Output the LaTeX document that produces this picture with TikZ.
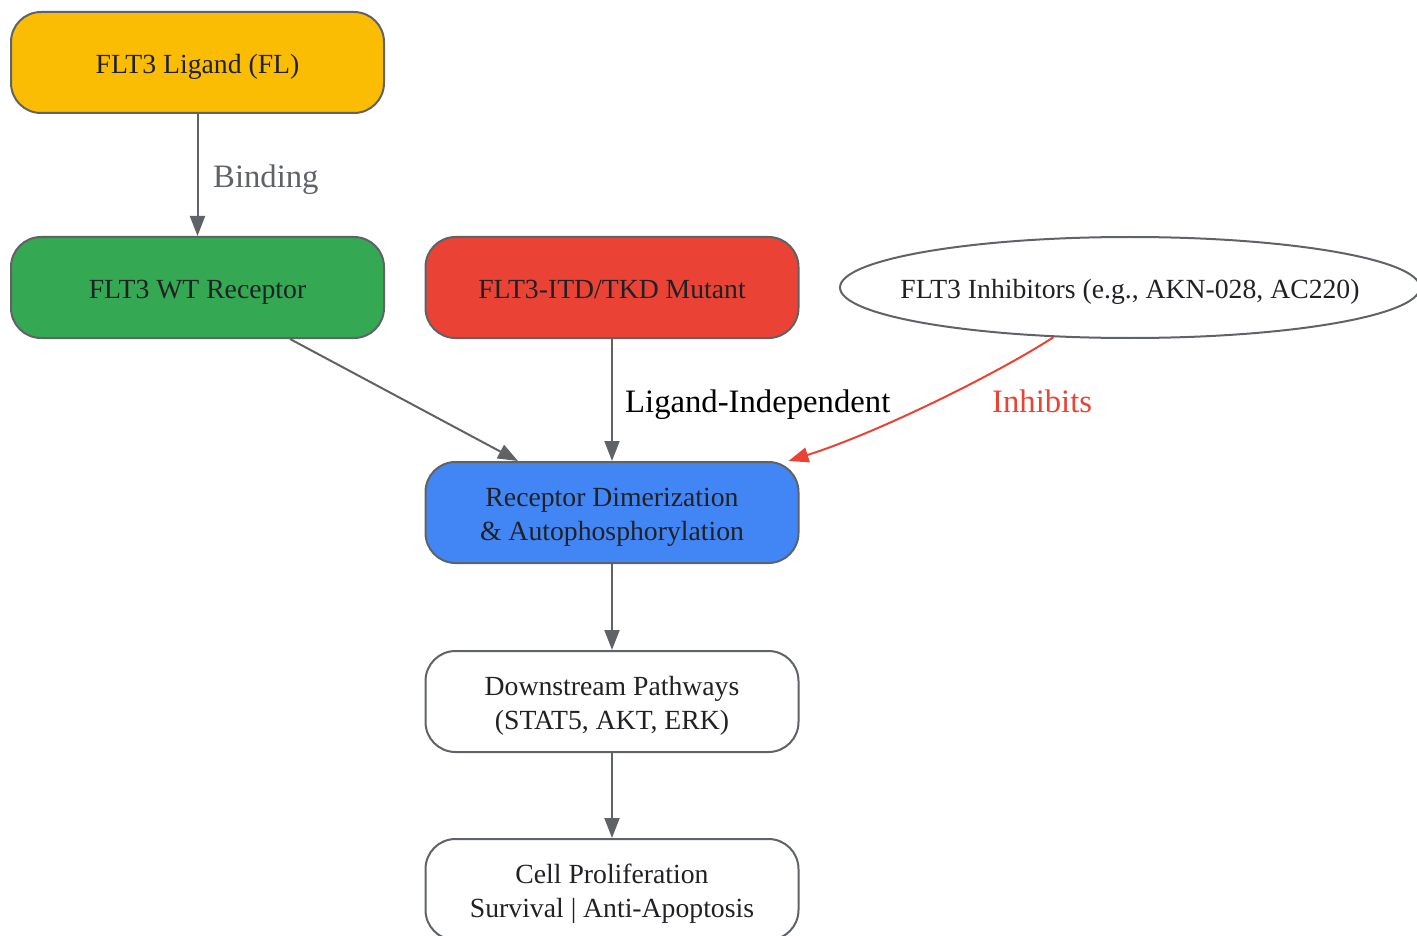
\documentclass[tikz,border=0pt]{standalone}
\usepackage{fontspec}
\setmainfont{Liberation Serif}
\usetikzlibrary{shapes.geometric,arrows.meta}
\definecolor{gline}{HTML}{5F6368}
\definecolor{gtext}{HTML}{202124}
\definecolor{gyellow}{HTML}{FBBC04}
\definecolor{ggreen}{HTML}{34A853}
\definecolor{gred}{HTML}{EA4335}
\definecolor{gblue}{HTML}{4285F4}
\newcommand{\tstrut}{\rule[-6pt]{0pt}{34pt}}
\tikzset{
  box/.style={draw=gline, line width=2pt, rounded corners=30pt, minimum width=373pt, minimum height=101pt,
    align=center, text=gtext, font=\fontsize{27.7}{34}\selectfont, inner sep=0pt},
  oval/.style={draw=gline, line width=2pt, ellipse, minimum width=580pt, minimum height=101pt,
    align=center, text=gtext, font=\fontsize{27.7}{34}\selectfont, inner xsep=-25pt, inner ysep=0pt},
  conn/.style={draw=gline, line width=2pt, -{Triangle[length=20pt,width=15pt]}},
  inh/.style={draw=gred, line width=2pt, -{Triangle[length=20pt,width=15pt]}},
  lbl/.style={font=\fontsize{32.7}{38}\selectfont, inner sep=0pt}
}
\begin{document}
\begin{tikzpicture}[x=1pt,y=-1pt]
\useasboundingbox (0,0) rectangle (1417,936);
\node[box, fill=gyellow] (lig) at (197.5,62.5) {\tstrut FLT3 Ligand (FL)};
\node[box, fill=ggreen] (wt) at (197.5,287.5) {\tstrut FLT3 WT Receptor};
\node[box, fill=gred] (mut) at (612,287.5) {\tstrut FLT3-ITD/TKD Mutant};
\node[oval, fill=white] (inhib) at (1130,287.5) {\tstrut FLT3 Inhibitors (e.g., AKN-028, AC220)};
\node[box, fill=gblue] (dim) at (612,512.5) {\tstrut Receptor Dimerization\\\& Autophosphorylation};
\node[box, fill=white] (down) at (612,701.5) {\tstrut Downstream Pathways\\(STAT5, AKT, ERK)};
\node[box, fill=white] (cell) at (612,889.5) {\tstrut Cell Proliferation\\Survival | Anti-Apoptosis};

\draw[conn] (lig.south) -- (wt.north);
\node[lbl, text=gline, anchor=west] (lbind) at (213,180) {Binding};
\draw[conn] ([xshift=92.5pt]wt.south) -- ([xshift=-94pt]dim.north);
\draw[conn] (mut.south) -- (dim.north);
\node[lbl, text=black, anchor=west] (lind) at (625,405) {Ligand-Independent};
\draw[inh] (inhib.213) .. controls (1000,372) and (880,432) .. ([xshift=-11pt]dim.north east);
\node[lbl, text=gred, anchor=west] (linh) at (992,401) {Inhibits};
\draw[conn] (dim.south) -- (down.north);
\draw[conn] (down.south) -- (cell.north);
\end{tikzpicture}
\end{document}
